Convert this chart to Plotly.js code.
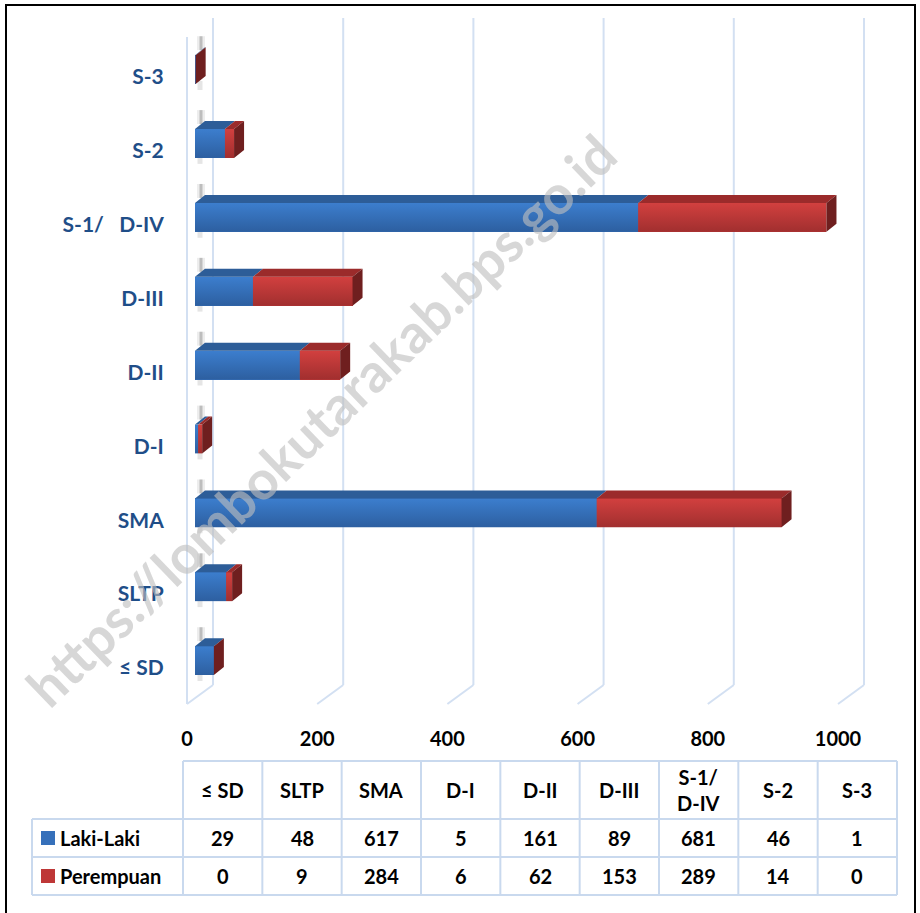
<!DOCTYPE html>
<html>
<head>
<meta charset="utf-8">
<script src="https://cdn.plot.ly/plotly-3.0.1.min.js"></script>
<style>html,body{margin:0;padding:0;background:#fff}#chart{width:920px;height:913px}</style>
</head>
<body>
<div id="chart"></div>
<script>
// ---- data ----
const categories = ['≤ SD', 'SLTP', 'SMA', 'D-I', 'D-II', 'D-III', 'S-1/ D-IV', 'S-2', 'S-3'];
const seriesNames = ['Laki-Laki', 'Perempuan'];
const lakiLaki = [29, 48, 617, 5, 161, 89, 681, 46, 1];
const perempuan = [0, 9, 284, 6, 62, 153, 289, 14, 0];
const xTicks = [0, 200, 400, 600, 800, 1000];
const watermark = 'https://lombokutarakab.bps.go.id';

// ---- style ----
const W = 920, H = 913;
const FONT = 'Lato, "Open Sans", sans-serif';
const BLUE = '#3670BA', BLUE_HI = '#3C7ECE', BLUE_LO = '#2D5FA0', BLUE_TOP = '#2D5D98';
const RED = '#BE3737', RED_HI = '#D2403F', RED_LO = '#A12F2F', RED_TOP = '#9B2B2B', RED_SIDE = '#6F1F1F';
const GRID = '#D3E0F2', LABEL = '#1F4E88';
const fx = p => p / W, fy = p => 1 - p / H;

// bar plotting area (front faces)
const BX0 = 195, BX1 = 846;              // px for 0 and 1000
const CAT_TOP = 77, CAT_BOT = 668;       // px for top and bottom category labels
const step = (CAT_BOT - CAT_TOP) / (categories.length - 1);
const pxPerUnit = (BX1 - BX0) / 1000;
const DX = 10 / pxPerUnit, DY = 8 / step;   // depth of bars in data units
const BAR_W = 0.39, SHIFT = 0.1;
// back wall frame: value 0 at px 213, wall from px 18 (top) to 685 (floor)
const GX0 = 213, WALL_TOP = 18, WALL_BOT = 685;
const FR_L = 170, FR_R = 885, FR_T = 10, FR_B = 715;   // frame subplot extent in px
const wallH = WALL_BOT - WALL_TOP;

const idx = categories.map((c, i) => i);
const yBar = idx.map(i => i + SHIFT);

// conversions between bar coordinates and frame coordinates (via pixels)
const barYpx = y => CAT_BOT - y * step;
const frameY = py => (WALL_BOT - py) / wallH;
const frameX = px => (px - GX0) / pxPerUnit;

function poly(fn) {
  const xs = [], ys = [];
  idx.forEach(i => { fn(i).forEach(p => { xs.push(p[0]); ys.push(p[1]); }); xs.push(null); ys.push(null); });
  return {xs, ys};
}
const blueTop = poly(i => { const yt = yBar[i] + BAR_W / 2, L = lakiLaki[i];
  return [[0, yt], [L, yt], [L + DX, yt + DY], [DX, yt + DY], [0, yt]]; });
const redTop = poly(i => { const yt = yBar[i] + BAR_W / 2, L = lakiLaki[i], T = L + perempuan[i];
  return [[L, yt], [T, yt], [T + DX, yt + DY], [L + DX, yt + DY], [L, yt]]; });
const side = poly(i => { const yt = yBar[i] + BAR_W / 2, yb = yBar[i] - BAR_W / 2, T = lakiLaki[i] + perempuan[i];
  return [[T, yb], [T, yt], [T + DX, yt + DY], [T + DX, yb + DY], [T, yb]]; });

// short soft shadow streaks on the wall just above and below each bar's left end
const shTopX = [], shTopY = [], shBotX = [], shBotY = [];
idx.forEach(i => {
  const topPx = barYpx(yBar[i] + BAR_W / 2 + DY), botPx = barYpx(yBar[i] - BAR_W / 2);
  shTopX.push(frameX(201), frameX(201), null); shTopY.push(frameY(topPx - 11), frameY(topPx + 3), null);
  shBotX.push(frameX(200), frameX(200), null); shBotY.push(frameY(botPx - 3), frameY(botPx + 6), null);
});

const traces = [
  {type: 'scatter', x: shTopX, y: shTopY, xaxis: 'x', yaxis: 'y', mode: 'lines', line: {color: 'rgba(0,0,0,0.07)', width: 8},
   hoverinfo: 'skip', showlegend: false},
  {type: 'scatter', x: shTopX, y: shTopY, xaxis: 'x', yaxis: 'y', mode: 'lines', line: {color: 'rgba(0,0,0,0.2)', width: 3},
   hoverinfo: 'skip', showlegend: false},
  {type: 'scatter', x: shBotX, y: shBotY, xaxis: 'x', yaxis: 'y', mode: 'lines', line: {color: 'rgba(0,0,0,0.1)', width: 5},
   hoverinfo: 'skip', showlegend: false},
  {type: 'bar', orientation: 'h', name: seriesNames[0], x: lakiLaki, y: yBar, width: BAR_W, xaxis: 'x2', yaxis: 'y2',
   marker: {color: BLUE, line: {width: 0}}, showlegend: false},
  {type: 'bar', orientation: 'h', name: seriesNames[1], x: perempuan, y: yBar, width: BAR_W, xaxis: 'x2', yaxis: 'y2',
   marker: {color: RED, line: {width: 0}}, showlegend: false}
];
// vertical shading of the front faces
idx.forEach(i => {
  const yt = yBar[i] + BAR_W / 2, yb = yBar[i] - BAR_W / 2;
  const segs = [[0, lakiLaki[i], BLUE_LO, BLUE_HI], [lakiLaki[i], lakiLaki[i] + perempuan[i], RED_LO, RED_HI]];
  segs.forEach(s => {
    if (s[1] - s[0] <= 0) return;
    traces.push({type: 'scatter', x: [s[0], s[1], s[1], s[0], s[0]], y: [yb, yb, yt, yt, yb], xaxis: 'x2', yaxis: 'y2',
      mode: 'lines', fill: 'toself', line: {width: 0, color: s[3]},
      fillgradient: {type: 'vertical', start: yb, stop: yt, colorscale: [[0, s[2]], [1, s[3]]]},
      hoverinfo: 'skip', showlegend: false});
  });
});
traces.push(
  {type: 'scatter', x: blueTop.xs, y: blueTop.ys, xaxis: 'x2', yaxis: 'y2', mode: 'lines', fill: 'toself',
   fillcolor: BLUE_TOP, line: {width: 0, color: BLUE_TOP}, hoverinfo: 'skip', showlegend: false},
  {type: 'scatter', x: redTop.xs, y: redTop.ys, xaxis: 'x2', yaxis: 'y2', mode: 'lines', fill: 'toself',
   fillcolor: RED_TOP, line: {width: 0, color: RED_TOP}, hoverinfo: 'skip', showlegend: false},
  {type: 'scatter', x: side.xs, y: side.ys, xaxis: 'x2', yaxis: 'y2', mode: 'lines', fill: 'toself',
   fillcolor: RED_SIDE, line: {width: 0, color: RED_SIDE}, hoverinfo: 'skip', showlegend: false},
  {type: 'scatter', x: [0], y: [0], xaxis: 'x3', yaxis: 'y2', mode: 'markers', marker: {opacity: 0}, hoverinfo: 'skip', showlegend: false}
);

// ---- shapes ----
const shapes = [];
// outer border
shapes.push({type: 'rect', xref: 'paper', yref: 'paper', x0: fx(6), x1: fx(915), y0: fy(5), y1: fy(930),
  line: {color: '#000', width: 2}, fillcolor: 'rgba(0,0,0,0)'});
// back-wall grid lines (frame subplot: y 0 = floor, y 1 = top of wall) and floor diagonals
xTicks.forEach(v => {
  shapes.push({type: 'line', xref: 'x', yref: 'y', x0: v, x1: v, y0: 0, y1: 1, line: {color: GRID, width: 2}, layer: 'below'});
  shapes.push({type: 'line', xref: 'x', yref: 'y', xsizemode: 'pixel', xanchor: v, x0: 0, x1: -26,
    ysizemode: 'pixel', yanchor: 0, y0: 0, y1: -19, line: {color: GRID, width: 2}, layer: 'below'});
});
// front edge of the side wall
shapes.push({type: 'line', xref: 'x', yref: 'y', xsizemode: 'pixel', xanchor: 0, x0: -26, x1: -26,
  ysizemode: 'pixel', yanchor: 0, y0: -19, y1: wallH - 19, line: {color: GRID, width: 2}, layer: 'below'});

// ---- data table ----
const TX0 = 183, TX1 = 897, TL = 32;
const colW = (TX1 - TX0) / categories.length;
const rowY = [761, 819, 857, 895];
const TBL = '#C9D9EE';
shapes.push({type: 'line', xref: 'paper', yref: 'paper', x0: fx(TX0), x1: fx(TX1), y0: fy(rowY[0]), y1: fy(rowY[0]), line: {color: TBL, width: 2}});
for (let r = 1; r < rowY.length; r++)
  shapes.push({type: 'line', xref: 'paper', yref: 'paper', x0: fx(TL), x1: fx(TX1), y0: fy(rowY[r]), y1: fy(rowY[r]), line: {color: TBL, width: 2}});
shapes.push({type: 'line', xref: 'paper', yref: 'paper', x0: fx(TL), x1: fx(TL), y0: fy(rowY[1]), y1: fy(rowY[3]), line: {color: TBL, width: 2}});
for (let k = 0; k <= categories.length; k++) {
  const x = TX0 + k * colW;
  shapes.push({type: 'line', xref: 'paper', yref: 'paper', x0: fx(x), x1: fx(x), y0: fy(rowY[0]), y1: fy(rowY[3]), line: {color: TBL, width: 2}});
}
// legend swatches
[BLUE, RED].forEach((c, r) => {
  const cy = (rowY[r + 1] + rowY[r + 2]) / 2;
  shapes.push({type: 'rect', xref: 'paper', yref: 'paper', x0: fx(41), x1: fx(55), y0: fy(cy + 7), y1: fy(cy - 7),
    fillcolor: c, line: {width: 0}});
});

const annotations = [];
const tfont = {family: FONT, size: 20, color: '#000', weight: 'bold'};
categories.forEach((c, k) => {
  const cx = TX0 + (k + 0.5) * colW;
  annotations.push({xref: 'paper', yref: 'paper', x: fx(cx), y: fy((rowY[0] + rowY[1]) / 2), text: '<b>' + c.replace('/ ', '/<br>') + '</b>',
    showarrow: false, font: tfont, xanchor: 'center', yanchor: 'middle'});
  [lakiLaki, perempuan].forEach((arr, r) => annotations.push({xref: 'paper', yref: 'paper', x: fx(cx),
    y: fy((rowY[r + 1] + rowY[r + 2]) / 2), text: '<b>' + arr[k] + '</b>', showarrow: false, font: tfont,
    xanchor: 'center', yanchor: 'middle'}));
});
seriesNames.forEach((n, r) => annotations.push({xref: 'paper', yref: 'paper', x: fx(58), y: fy((rowY[r + 1] + rowY[r + 2]) / 2),
  text: '<b>' + n + '</b>', showarrow: false, font: tfont, xanchor: 'left', yanchor: 'middle'}));
// watermark
annotations.push({xref: 'paper', yref: 'paper', x: fx(320), y: fy(420), text: '<b>' + watermark + '</b>', showarrow: false,
  textangle: -44, font: {family: FONT, size: 54, color: 'rgba(190,190,190,0.62)'}, xanchor: 'center', yanchor: 'middle'});

const layout = {
  width: W, height: H, margin: {l: 0, r: 0, t: 0, b: 0, pad: 0},
  paper_bgcolor: '#fff', plot_bgcolor: 'rgba(0,0,0,0)', showlegend: false, barmode: 'stack', bargap: 0,
  font: {family: FONT},
  // frame (back wall grid)
  xaxis: {domain: [fx(FR_L), fx(FR_R)], range: [frameX(FR_L), frameX(FR_R)], anchor: 'y', visible: false, fixedrange: true},
  yaxis: {domain: [fy(FR_B), fy(FR_T)], range: [frameY(FR_B), frameY(FR_T)], anchor: 'x', visible: false, fixedrange: true},
  // bars
  xaxis2: {domain: [fx(BX0), fx(BX1)], range: [0, 1000], anchor: 'y2', visible: false, fixedrange: true},
  yaxis2: {domain: [fy(CAT_BOT + step / 2), fy(CAT_TOP - step / 2)], range: [-0.5, categories.length - 0.5], anchor: 'x2',
    tickmode: 'array', tickvals: idx, ticktext: categories.map(c => c.replace('/ ', '/\u00A0\u00A0\u00A0')),
    tickfont: {family: FONT, size: 21, color: LABEL, weight: 'bold'}, ticks: 'outside', ticklen: 26, tickcolor: 'rgba(0,0,0,0)',
    showgrid: false, zeroline: false, showline: false, fixedrange: true},
  // value labels along the front floor edge
  xaxis3: {domain: [fx(187), fx(838)], range: [0, 1000], anchor: 'y2', side: 'bottom', tickmode: 'array', tickvals: xTicks,
    tickfont: {family: FONT, size: 20, color: '#000', weight: 'bold'}, ticks: 'outside', ticklen: 16, tickcolor: 'rgba(0,0,0,0)',
    showgrid: false, zeroline: false, showline: false, fixedrange: true},
  shapes: shapes,
  annotations: annotations
};

Plotly.newPlot('chart', traces, layout, {displayModeBar: false, staticPlot: true});
</script>
</body>
</html>
